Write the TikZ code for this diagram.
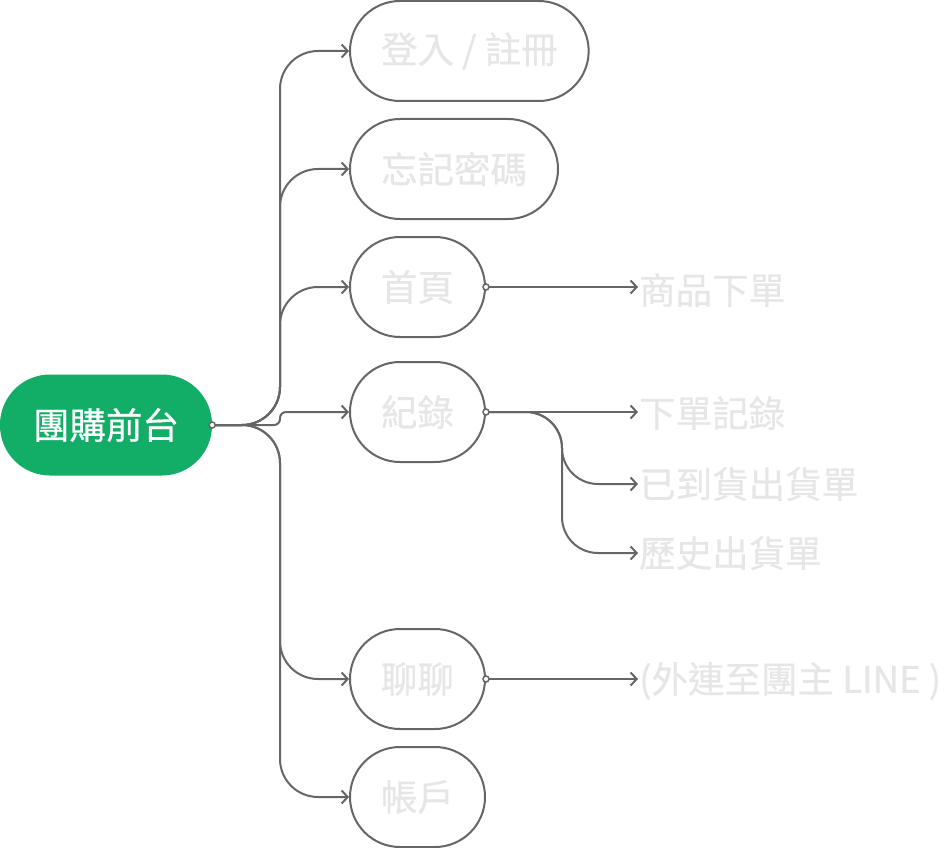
\documentclass[tikz,border=0pt]{standalone}
\usepackage{fontspec}
\setmainfont{Noto Sans CJK TC}[FakeBold=0.5]
\usetikzlibrary{arrows.meta}
\definecolor{rootgreen}{HTML}{12AD67}
\definecolor{linegray}{HTML}{666666}
\definecolor{textgray}{HTML}{E6E6E6}

\begin{document}
\begin{tikzpicture}[x=1pt, y=-1pt,
    every node/.style={font=\fontsize{36.5}{44}\selectfont},
    rootbox/.style={fill=rootgreen, text=white, rounded corners=50pt,
      minimum height=101pt, minimum width=212pt, inner sep=0pt},
    pagebox/.style={draw=linegray, line width=2pt, text=textgray, fill=white,
      rounded corners=50pt, minimum height=100pt, inner xsep=31pt, anchor=west},
    leaf/.style={text=textgray, inner xsep=1pt, inner ysep=0pt, anchor=west},
    link/.style={draw=linegray, line width=2pt,
      -{Straight Barb[length=6pt,width=13pt]}, rounded corners=38pt},
    dot/.style={fill=white, draw=linegray, line width=1.5pt}]
  \useasboundingbox (0,0) rectangle (948,848);

  \node[rootbox] (root) at (106,425) {團購前台};
  \node[pagebox] (login) at (349,51) {登入 / 註冊};
  \node[pagebox] (forgot) at (349,169) {忘記密碼};
  \node[pagebox] (home) at (349,287) {首頁};
  \node[pagebox] (records) at (349,412) {紀錄};
  \node[pagebox] (chat) at (349,679) {聊聊};
  \node[pagebox] (account) at (349,797) {帳戶};

  \node[leaf] (order) at (638,290) {商品下單};
  \node[leaf] (history) at (638,413) {下單記錄};
  \node[leaf] (arrived) at (638,484) {已到貨出貨單};
  \node[leaf] (shipped) at (638,553) {歷史出貨單};
  \node[leaf] (line) at (638,681) {(外連至團主 LINE )};

  \coordinate (fork) at (280,425);
  \coordinate (rfork) at (562,412);

  \foreach \n in {login,forgot,home,chat,account}
    \draw[link] (root.east) -- (fork) |- (\n.west);
  \draw[link, rounded corners=6pt] (root.east) -- (fork) |- (records.west);

  \draw[link] (home.east) -- (home.east -| order.west);
  \draw[link] (records.east) -- (records.east -| history.west);
  \draw[link, rounded corners=36pt] (records.east) -- (rfork) |- (arrived.west);
  \draw[link, rounded corners=36pt] (records.east) -- (rfork) |- (shipped.west);
  \draw[link] (chat.east) -- (chat.east -| line.west);

  \foreach \n in {root,home,records,chat}
    \draw[dot] (\n.east) circle (3pt);
\end{tikzpicture}
\end{document}
